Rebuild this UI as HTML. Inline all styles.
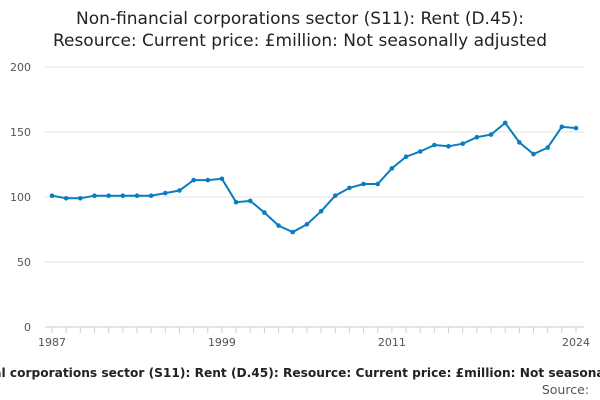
<!DOCTYPE html>
<html><head><meta charset="utf-8"><style>
body{margin:0;width:600px;height:400px;overflow:hidden;background:#fff;font-family:"DejaVu Sans","Liberation Sans",sans-serif;}
</style></head><body>
<svg width="600" height="400" style="position:absolute;left:0;top:0">
<text x="300" y="24" text-anchor="middle" font-size="17" fill="#222">Non-financial corporations sector (S11): Rent (D.45):</text>
<text x="300" y="46" text-anchor="middle" font-size="17" fill="#222">Resource: Current price: £million: Not seasonally adjusted</text>
<g id="grid"></g><g id="xaxis"></g><g id="series"></g>
<text x="300" y="377" text-anchor="middle" font-size="12.2" font-weight="bold" fill="#222">Non-financial corporations sector (S11): Rent (D.45): Resource: Current price: £million: Not seasonally adjusted</text>
<text x="589" y="394" text-anchor="end" font-size="12.5" fill="#555">Source:</text>
</svg>
<script>
const years=[1987,1988,1989,1990,1991,1992,1993,1994,1995,1996,1997,1998,1999,2000,2001,2002,2003,2004,2005,2006,2007,2008,2009,2010,2011,2012,2013,2014,2015,2016,2017,2018,2019,2020,2021,2022,2023,2024];
const values=[101,99,99,101,101,101,101,101,103,105,113,113,114,96,97,88,78,73,79,89,101,107,110,110,122,131,135,140,139,141,146,148,157,142,133,138,154,153];
const yTicks=[0,50,100,150,200];
const xLabels=[1987,1999,2011,2024];
const NS='http://www.w3.org/2000/svg';
const x=v=>52+(v-1987)*(524/37);
const y=v=>327-v*1.3;
function mk(t,a,p){const e=document.createElementNS(NS,t);for(const k in a)e.setAttribute(k,a[k]);p.appendChild(e);return e;}
const g=document.getElementById('grid');
yTicks.forEach(t=>{
const l=mk('line',{x1:45,x2:584,y1:y(t),y2:y(t),stroke:t===0?'#ccc':'#e3e3e3','stroke-width':1},g);


const tx=mk('text',{x:31,y:y(t)+4,'text-anchor':'end','font-size':11,fill:'#555'},g);tx.textContent=t;


});
const xa=document.getElementById('xaxis');
years.forEach(yr=>{
const l=mk('line',{x1:x(yr),x2:x(yr),y1:327,y2:333,stroke:'#ccd','stroke-width':1},xa);


});
xLabels.forEach(yr=>{
const tx=mk('text',{x:x(yr),y:346,'text-anchor':'middle','font-size':11,fill:'#555'},xa);tx.textContent=yr;


});
const s=document.getElementById('series');
const pl=mk('polyline',{points:years.map((yr,i)=>x(yr)+','+y(values[i])).join(' '),fill:'none',stroke:'#0a7cc1','stroke-width':2},s);


years.forEach((yr,i)=>{
const c=mk('circle',{cx:x(yr),cy:y(values[i]),r:2.3,fill:'#0a7cc1'},s);


});
</script>
</body></html>
